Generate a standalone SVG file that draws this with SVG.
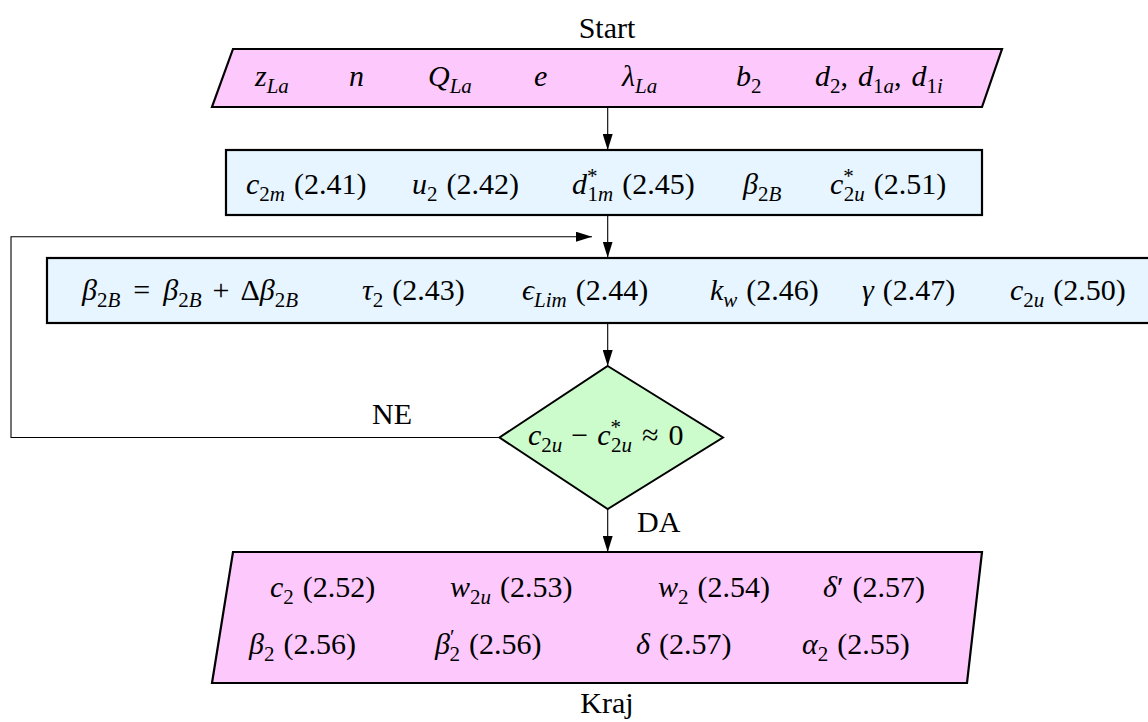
<svg xmlns="http://www.w3.org/2000/svg" width="1148" height="722" viewBox="0 0 1148 722">
<style>
text{font-family:"Liberation Serif","Times New Roman",serif;font-size:30px;fill:#000}
.i{font-style:italic}
.s{font-size:21px}
.io{fill:#fdc9fd;stroke:#000;stroke-width:2.2}
.pr{fill:#e6f5ff;stroke:#000;stroke-width:2.2}
.dc{fill:#ccfccc;stroke:#000;stroke-width:2}
.c{fill:none;stroke:#000;stroke-width:1.1}
</style>
<defs>
<marker id="ah" markerWidth="16" markerHeight="10" refX="16" refY="5" orient="auto" markerUnits="userSpaceOnUse"><path d="M0,0 L16,5 L0,10 Z" fill="#000"/></marker>
</defs>
<g id="connectors">
<path class="c" d="M607.7,107 V150" marker-end="url(#ah)"/>
<path class="c" d="M607.7,215 V257.5" marker-end="url(#ah)"/>
<path class="c" d="M607.7,323 V366" marker-end="url(#ah)"/>
<path class="c" d="M607.7,509 V552" marker-end="url(#ah)"/>
<path class="c" d="M499.5,437.5 H11 V236.7 H592" marker-end="url(#ah)"/>
<text x="372" y="424">NE</text>
<text x="637" y="532">DA</text>
</g>
<g id="start">
<text x="607" y="38" text-anchor="middle">Start</text>
<polygon class="io" points="233,49 1002,49 982,107 212,107"/>
<text x="255" y="86"><tspan class="i">z</tspan><tspan class="s i" dy="7">La</tspan></text>
<text x="349" y="86" class="i">n</text>
<text x="428" y="86"><tspan class="i">Q</tspan><tspan class="s i" dy="7">La</tspan></text>
<text x="534" y="86" class="i">e</text>
<text x="622" y="86"><tspan class="i">λ</tspan><tspan class="s i" dy="7">La</tspan></text>
<text x="736" y="86"><tspan class="i">b</tspan><tspan class="s" dy="7">2</tspan></text>
<text x="815" y="86"><tspan class="i">d</tspan><tspan class="s" dy="7">2</tspan><tspan dy="-7">,</tspan><tspan class="i" dx="10">d</tspan><tspan class="s" dy="7">1</tspan><tspan class="s i">a</tspan><tspan dy="-7">,</tspan><tspan class="i" dx="10">d</tspan><tspan class="s" dy="7">1</tspan><tspan class="s i">i</tspan></text>
</g>
<g id="init">
<rect class="pr" x="226" y="150" width="756" height="65"/>
<text x="246" y="194"><tspan class="i">c</tspan><tspan class="s" dy="7">2</tspan><tspan class="s i">m</tspan><tspan dy="-7" dx="9">(2.41)</tspan></text>
<text x="412" y="194"><tspan class="i">u</tspan><tspan class="s" dy="7">2</tspan><tspan dy="-7" dx="9">(2.42)</tspan></text>
<text x="572" y="194"><tspan class="i">d</tspan><tspan class="s" dy="-11">*</tspan><tspan class="s" dx="-10" dy="18">1</tspan><tspan class="s i">m</tspan><tspan dy="-7" dx="9">(2.45)</tspan></text>
<text x="743" y="194"><tspan class="i">β</tspan><tspan class="s" dy="7">2</tspan><tspan class="s i">B</tspan></text>
<text x="830" y="194"><tspan class="i">c</tspan><tspan class="s" dy="-11">*</tspan><tspan class="s" dx="-10" dy="18">2</tspan><tspan class="s i">u</tspan><tspan dy="-7" dx="9">(2.51)</tspan></text>
</g>
<g id="iterate">
<rect class="pr" x="47" y="258" width="1120" height="65"/>
<text x="82" y="300"><tspan class="i">β</tspan><tspan class="s" dy="7">2</tspan><tspan class="s i">B</tspan><tspan dy="-7" dx="13">=</tspan><tspan class="i" dx="13">β</tspan><tspan class="s" dy="7">2</tspan><tspan class="s i">B</tspan><tspan dy="-7" dx="11">+</tspan><tspan dx="11">Δ</tspan><tspan class="i">β</tspan><tspan class="s" dy="7">2</tspan><tspan class="s i">B</tspan></text>
<text x="362" y="300"><tspan class="i">τ</tspan><tspan class="s" dy="7">2</tspan><tspan dy="-7" dx="9">(2.43)</tspan></text>
<text x="522" y="300"><tspan class="i">ϵ</tspan><tspan class="s i" dy="7">Lim</tspan><tspan dy="-7" dx="9">(2.44)</tspan></text>
<text x="710" y="300"><tspan class="i">k</tspan><tspan class="s i" dy="7">w</tspan><tspan dy="-7" dx="9">(2.46)</tspan></text>
<text x="862" y="300"><tspan class="i">γ</tspan><tspan dx="9">(2.47)</tspan></text>
<text x="1010" y="300"><tspan class="i">c</tspan><tspan class="s" dy="7">2</tspan><tspan class="s i">u</tspan><tspan dy="-7" dx="9">(2.50)</tspan></text>
</g>
<g id="check">
<polygon class="dc" points="607.7,366 723,437.5 607.7,509 499.5,437.5"/>
<text x="528" y="445"><tspan class="i">c</tspan><tspan class="s" dy="7">2</tspan><tspan class="s i">u</tspan><tspan dy="-7" dx="9">−</tspan><tspan class="i" dx="9">c</tspan><tspan class="s" dy="-11">*</tspan><tspan class="s" dx="-10" dy="18">2</tspan><tspan class="s i">u</tspan><tspan dy="-7" dx="10">≈</tspan><tspan dx="10">0</tspan></text>
</g>
<g id="end">
<polygon class="io" points="233,552 982,552 967,683 212,683"/>
<text x="270" y="597"><tspan class="i">c</tspan><tspan class="s" dy="7">2</tspan><tspan dy="-7" dx="9">(2.52)</tspan></text>
<text x="450" y="597"><tspan class="i">w</tspan><tspan class="s" dy="7">2</tspan><tspan class="s i">u</tspan><tspan dy="-7" dx="9">(2.53)</tspan></text>
<text x="658" y="597"><tspan class="i">w</tspan><tspan class="s" dy="7">2</tspan><tspan dy="-7" dx="9">(2.54)</tspan></text>
<text x="823" y="597"><tspan class="i">δ</tspan><tspan>′</tspan><tspan dx="9">(2.57)</tspan></text>
<text x="249" y="654"><tspan class="i">β</tspan><tspan class="s" dy="7">2</tspan><tspan dy="-7" dx="9">(2.56)</tspan></text>
<text x="435" y="654"><tspan class="i">β</tspan><tspan class="s" dy="-10">′</tspan><tspan class="s" dx="-5" dy="17">2</tspan><tspan dy="-7" dx="9">(2.56)</tspan></text>
<text x="636" y="654"><tspan class="i">δ</tspan><tspan dx="9">(2.57)</tspan></text>
<text x="802" y="654"><tspan class="i">α</tspan><tspan class="s" dy="7">2</tspan><tspan dy="-7" dx="9">(2.55)</tspan></text>
<text x="607" y="713" text-anchor="middle">Kraj</text>
</g>
</svg>
